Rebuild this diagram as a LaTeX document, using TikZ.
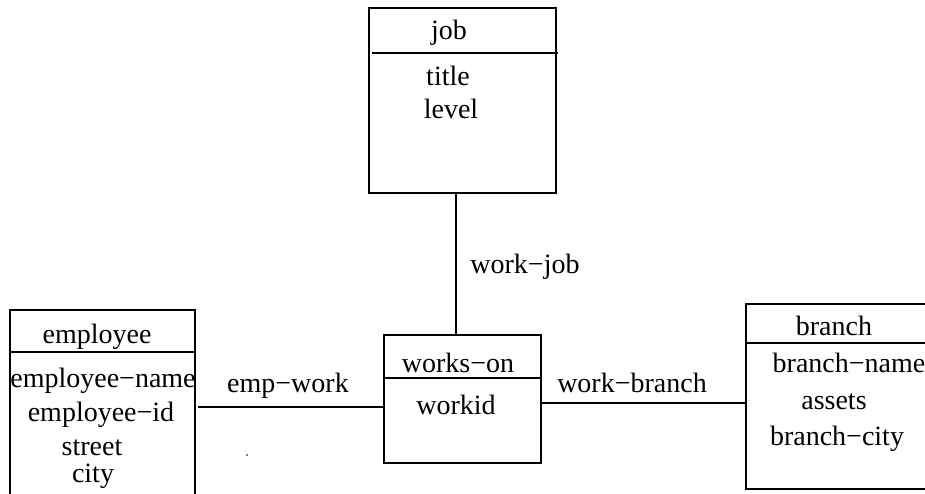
\documentclass[tikz,border=0pt]{standalone}
\usepackage{fontspec}
\setmainfont{Liberation Serif}
\begin{document}
\begin{tikzpicture}[x=1pt,y=-1pt,line width=1.3pt,
  entity/.style={draw,rectangle,anchor=north west,inner sep=0pt,outer sep=0pt},
  txt/.style={inner sep=0pt,anchor=base,font=\fontsize{28}{34}\selectfont}]
\useasboundingbox (0,0) rectangle (925,493);
\clip (0,0) rectangle (925,493);
% boxes
\node[entity,minimum width=187pt,minimum height=185pt] (job) at (369,8) {};
\node[entity,minimum width=185pt,minimum height=220pt] (emp) at (10,310) {};
\node[entity,minimum width=157pt,minimum height=128pt] (works) at (384,335) {};
\node[entity,minimum width=220pt,minimum height=185pt] (branch) at (746,304) {};
% header separators
\coordinate (jh) at (0,53);
\coordinate (eh) at (0,352);
\coordinate (wh) at (0,378);
\coordinate (bh) at (0,343);
\draw ([xshift=3pt]job.west |- jh) -- ([xshift=2pt]job.east |- jh);
\draw (emp.west |- eh) -- (emp.east |- eh);
\draw (works.west |- wh) -- (works.east |- wh);
\draw (branch.west |- bh) -- (branch.east |- bh);
% texts
\node[txt] (t1) at (449,39) {job};
\node[txt] (t2) at (448,85) {title};
\node[txt] (t3) at (451,118) {level};
\node[txt] (t4) at (97,343) {employee};
\node[txt] (t5) at (103,387) {employee−name};
\node[txt] (t6) at (101,421) {employee−id};
\node[txt] (t7) at (92,455) {street};
\node[txt] (t8) at (93,482) {city};
\node[txt] (t9) at (458,372) {works−on};
\node[txt] (t10) at (456,414) {workid};
\node[txt] (t11) at (834,335) {branch};
\node[txt] (t12) at (849,372) {branch−name};
\node[txt] (t13) at (834,409) {assets};
\node[txt] (t14) at (837,445) {branch−city};
% connectors
\coordinate (jx) at (456,0);
\coordinate (ey) at (0,407);
\coordinate (by) at (0,403);
\draw (job.south -| jx) -- (works.north -| jx);
\draw[shorten <=3pt] (emp.east |- ey) -- (works.west |- ey);
\draw (works.east |- by) -- (branch.west |- by);
% connector labels
\node[txt] (l1) at (525,273) {work−job};
\node[txt] (l2) at (288,392) {emp−work};
\node[txt] (l3) at (632,392) {work−branch};
% stray dot
\fill (247,455) circle (0.8pt);
\end{tikzpicture}
\end{document}
